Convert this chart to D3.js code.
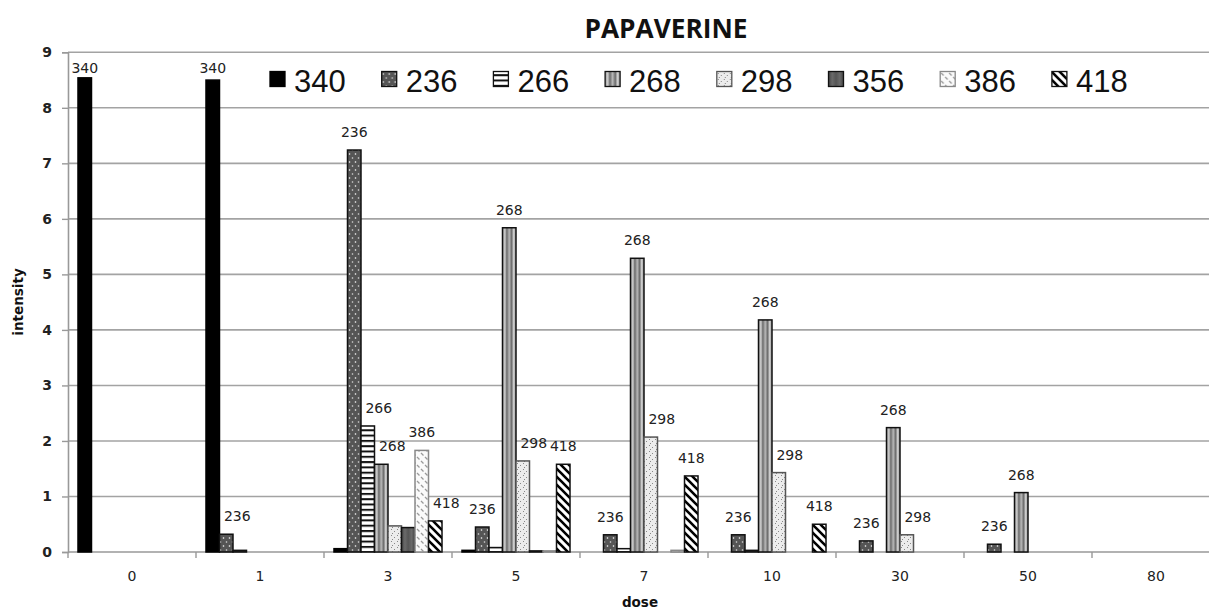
<!DOCTYPE html>
<html><head><meta charset="utf-8">
<script src="https://cdn.jsdelivr.net/npm/d3@7"></script>
<style>html,body{margin:0;padding:0;background:#fff;}svg{display:block;}</style>
</head><body>
<svg id="chart" width="1209" height="612"></svg>
<script>
const categories = ["0","1","3","5","7","10","30","50","80"];
const seriesNames = ["340","236","266","268","298","356","386","418"];
const v340 = [8.54, 8.50, 0.06, 0.03, 0, 0, 0, 0, 0];
const v236 = [0, 0.32, 7.24, 0.45, 0.31, 0.31, 0.20, 0.14, 0];
const v266 = [0, 0.03, 2.27, 0.08, 0.06, 0.03, 0, 0, 0];
const v268 = [0, 0, 1.58, 5.84, 5.29, 4.18, 2.24, 1.07, 0];
const v298 = [0, 0, 0.47, 1.64, 2.07, 1.43, 0.31, 0, 0];
const v356 = [0, 0, 0.44, 0.02, 0, 0, 0, 0, 0];
const v386 = [0, 0, 1.83, 0.02, 0.03, 0, 0, 0, 0];
const v418 = [0, 0, 0.56, 1.58, 1.37, 0.50, 0, 0, 0];
const yTicks = [0,1,2,3,4,5,6,7,8,9];
const labelled = [
  ["0","340"],["1","340"],["1","236"],
  ["3","236"],["3","266"],["3","268"],["3","386"],["3","418"],
  ["5","236"],["5","268"],["5","298"],["5","418"],
  ["7","236"],["7","268"],["7","298"],["7","418"],
  ["10","236"],["10","268"],["10","298"],["10","418"],
  ["30","236"],["30","268"],["30","298"],
  ["50","236"],["50","268"]
];
const title = "PAPAVERINE", xTitle = "dose", yTitle = "intensity";

const seriesValues = {"340":v340,"236":v236,"266":v266,"268":v268,"298":v298,"356":v356,"386":v386,"418":v418};
const svg = d3.select("#chart");
const defs = svg.append("defs");

// patterns
let p = defs.append("pattern").attr("id","p236").attr("patternUnits","userSpaceOnUse").attr("width",6).attr("height",8);
p.append("rect").attr("width",6).attr("height",8).attr("fill","#555");
p.append("circle").attr("cx",1.5).attr("cy",2).attr("r",0.8).attr("fill","#fff");
p.append("circle").attr("cx",4.5).attr("cy",6).attr("r",0.8).attr("fill","#ddd");

p = defs.append("pattern").attr("id","p266").attr("patternUnits","userSpaceOnUse").attr("width",8).attr("height",5.3);
p.append("rect").attr("width",8).attr("height",5.3).attr("fill","#fff");
p.append("rect").attr("y",0).attr("width",8).attr("height",2).attr("fill","#111");

let g = defs.append("linearGradient").attr("id","g268").attr("x1",0).attr("x2",1).attr("y1",0).attr("y2",0);
[[0,"#9a9a9a"],[0.18,"#cfcfcf"],[0.32,"#6a6a6a"],[0.5,"#b8b8b8"],[0.68,"#6a6a6a"],[0.82,"#cfcfcf"],[1,"#9a9a9a"]]
  .forEach(s=>g.append("stop").attr("offset",s[0]).attr("stop-color",s[1]));

p = defs.append("pattern").attr("id","p298").attr("patternUnits","userSpaceOnUse").attr("width",6).attr("height",6);
p.append("rect").attr("width",6).attr("height",6).attr("fill","#ececec");
[[1,1],[4,3],[2,5]].forEach(d=>p.append("rect").attr("x",d[0]).attr("y",d[1]).attr("width",1).attr("height",1).attr("fill","#888"));

g = defs.append("linearGradient").attr("id","g356").attr("x1",0).attr("x2",1).attr("y1",0).attr("y2",0);
[[0,"#444"],[0.25,"#6a6a6a"],[0.5,"#555"],[0.75,"#6a6a6a"],[1,"#444"]]
  .forEach(s=>g.append("stop").attr("offset",s[0]).attr("stop-color",s[1]));

p = defs.append("pattern").attr("id","p386").attr("patternUnits","userSpaceOnUse").attr("width",8).attr("height",8);
p.append("rect").attr("width",8).attr("height",8).attr("fill","#fafafa");
p.append("path").attr("d","M1,1 L3.5,3.5 M5,5 L7.5,7.5").attr("stroke","#999").attr("stroke-width",1.3);

p = defs.append("pattern").attr("id","p418").attr("patternUnits","userSpaceOnUse").attr("width",8).attr("height",8);
p.append("rect").attr("width",8).attr("height",8).attr("fill","#fff");
p.append("path").attr("d","M-2,-2 L10,10 M-2,6 L2,10 M6,-2 L10,2").attr("stroke","#000").attr("stroke-width",2.6);

const fills = {"340":"#000","236":"url(#p236)","266":"url(#p266)","268":"url(#g268)","298":"url(#p298)","356":"url(#g356)","386":"url(#p386)","418":"url(#p418)"};
const strokes = {"340":"#000","236":"#111","266":"#111","268":"#111","298":"#555","356":"#111","386":"#888","418":"#111"};

// scales
const left = 68, groupStep = 128;
const x0 = d3.scaleBand().domain(categories).range([left, left + groupStep*categories.length]).paddingInner(0).paddingOuter(0);
const x1 = d3.scaleBand().domain(seriesNames).range([0, x0.bandwidth()]).paddingInner(0).paddingOuter(0.74);
const y = d3.scaleLinear().domain([0, 9]).range([552, 52.3]);

// gridlines
svg.append("g").selectAll("line").data(yTicks.filter(t=>t>0)).join("line")
  .attr("x1", left).attr("x2", 1209).attr("y1", d=>y(d)).attr("y2", d=>y(d))
  .attr("stroke","#a3a3a3").attr("stroke-width",1.6);

// y axis
const yAxis = svg.append("g").attr("transform",`translate(${left},0)`)
  .call(d3.axisLeft(y).tickValues(yTicks).tickSize(6).tickPadding(10).tickFormat(d3.format("d")));
yAxis.select(".domain").attr("stroke","#999").attr("stroke-width",1.6);
yAxis.selectAll(".tick line").attr("stroke","#999").attr("stroke-width",1.4);
yAxis.selectAll("text").attr("font-family","DejaVu Sans").attr("font-weight","bold").attr("font-size",14).attr("fill","#222");

// x axis
const xAxis = svg.append("g").attr("transform","translate(0,552)")
  .call(d3.axisBottom(x0).tickSize(0).tickPadding(19));
xAxis.select(".domain").remove();
xAxis.selectAll("text").attr("font-family","DejaVu Sans").attr("font-size",14).attr("fill","#222");
svg.append("line").attr("x1",left).attr("x2",1209).attr("y1",552).attr("y2",552).attr("stroke","#999").attr("stroke-width",1.6);
const bounds = categories.map(c=>x0(c)).concat([x0(categories[categories.length-1]) + x0.bandwidth()]);
svg.append("g").selectAll("line").data(bounds).join("line")
  .attr("x1",d=>d).attr("x2",d=>d).attr("y1",552).attr("y2",558)
  .attr("stroke","#999").attr("stroke-width",1.4);

// bars
const barData = [];
categories.forEach((c,i)=>seriesNames.forEach(s=>{ const v = seriesValues[s][i]; if (v>0) barData.push({c,s,v,i}); }));
svg.append("g").selectAll("rect").data(barData).join("rect")
  .attr("x", d=>x0(d.c)+x1(d.s))
  .attr("y", d=>y(d.v))
  .attr("width", x1.bandwidth())
  .attr("height", d=>Math.max(0.5, y(0)-y(d.v)))
  .attr("fill", d=>fills[d.s])
  .attr("stroke", d=>strokes[d.s])
  .attr("stroke-width", 1.5);

// data labels
svg.append("g").selectAll("text").data(labelled).join("text")
  .attr("x", d=>{
    const ci = categories.indexOf(d[0]); const si = seriesNames.indexOf(d[1]);
    const v = seriesValues[d[1]][ci];
    const prev = si>0 ? seriesValues[seriesNames[si-1]][ci] : 0;
    const shift = prev > v ? 11 : 0;
    return x0(d[0]) + x1(d[1]) + x1.bandwidth()/2 + shift;
  })
  .attr("y", d=>{
    const ci = categories.indexOf(d[0]);
    return Math.max(72.5, y(seriesValues[d[1]][ci]) - 13);
  })
  .attr("text-anchor","middle")
  .attr("font-family","DejaVu Sans").attr("font-size",14).attr("fill","#222")
  .text(d=>d[1]);

// legend
const legendX = d3.scaleBand().domain(seriesNames).range([270, 270 + 111.7*seriesNames.length]);
const lg = svg.append("g").selectAll("g").data(seriesNames).join("g")
  .attr("transform", d=>`translate(${legendX(d)},0)`);
lg.append("rect").attr("x",0).attr("y",71.5).attr("width",15).attr("height",15)
  .attr("fill", d=>fills[d]).attr("stroke", d=>strokes[d]).attr("stroke-width",1.3);
lg.append("text").attr("x",24).attr("y",91.7)
  .attr("font-family","Liberation Sans, Arial").attr("font-size",31).attr("fill","#111")
  .text(d=>d);

// titles
svg.append("text").attr("x",666).attr("y",37.5).attr("text-anchor","middle")
  .attr("font-family","Open Sans").attr("font-weight","bold").attr("font-size",26)
  .attr("textLength",163).attr("lengthAdjust","spacingAndGlyphs").attr("fill","#111").text(title);
svg.append("text").attr("x",640).attr("y",607).attr("text-anchor","middle")
  .attr("font-family","DejaVu Sans").attr("font-weight","bold").attr("font-size",13.5).attr("fill","#111").text(xTitle);
svg.append("text").attr("transform","translate(23,302) rotate(-90)").attr("text-anchor","middle")
  .attr("font-family","DejaVu Sans").attr("font-weight","bold").attr("font-size",13.5).attr("fill","#111").text(yTitle);
</script>
</body></html>
